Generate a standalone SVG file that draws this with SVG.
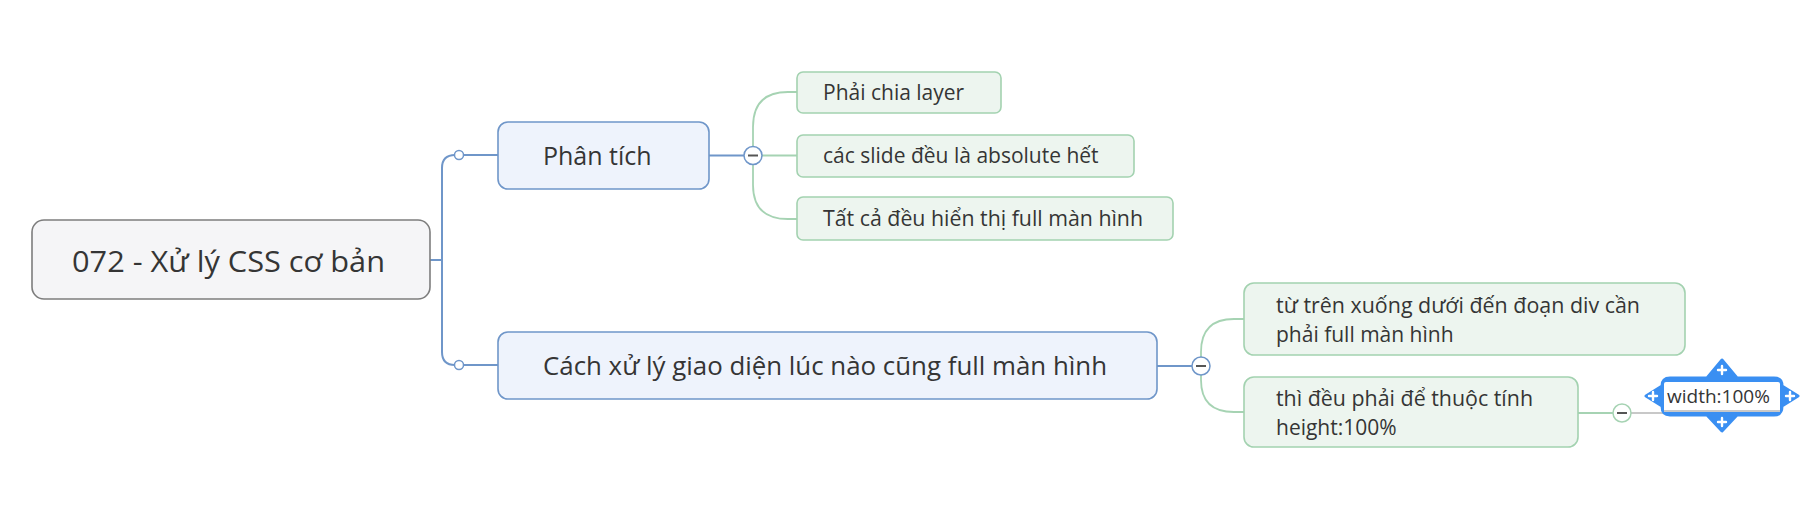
<svg xmlns="http://www.w3.org/2000/svg" width="1818" height="518" viewBox="0 0 1818 518">
<style>
text{font-family:"Open Sans","Noto Sans","Liberation Sans",sans-serif;fill:#353535}
.root{fill:#f5f5f7;stroke:#7d7d7d;stroke-width:1.6}
.main{fill:#eef3fc;stroke:#6f96c9;stroke-width:1.6}
.sub{fill:#edf5ef;stroke:#a3d2b0;stroke-width:1.6}
.bl{fill:none;stroke:#6f96c9;stroke-width:2}
.gr{fill:none;stroke:#a6d3b3;stroke-width:1.8}
.dot{fill:#ffffff;stroke:#6f96c9;stroke-width:1.5}
.colb{fill:#ffffff;stroke:#6f96c9;stroke-width:1.5}
.colg{fill:#ffffff;stroke:#a6d3b3;stroke-width:1.5}
.minus{stroke:#555555;stroke-width:2}
.t25{font-size:25px}
.t21{font-size:21px}
</style>
<rect width="1818" height="518" fill="#ffffff"/>
<g id="connectors">
  <path class="bl" d="M430,260 H442"/>
  <path class="bl" d="M442,260 V168 Q442,155 455,155 M464,155 H498"/>
  <path class="bl" d="M442,260 V352 Q442,365 455,365 M464,365 H498"/>
  <circle class="dot" cx="459" cy="155" r="4.5"/>
  <circle class="dot" cx="459" cy="365" r="4.5"/>
  <path class="bl" d="M709,155.5 H744"/>
  <path class="gr" d="M753,147 V127 Q753,92 788,92 H797"/>
  <path class="gr" d="M762,155.5 H797"/>
  <path class="gr" d="M753,164 V185 Q753,219 788,219 H797"/>
  <circle class="colb" cx="753" cy="155.5" r="9"/>
  <line class="minus" x1="748" y1="155.5" x2="758" y2="155.5"/>
  <path class="bl" d="M1157,366 H1192"/>
  <path class="gr" d="M1201,357 V352 Q1201,319 1234,319 H1244"/>
  <path class="gr" d="M1201,375 V380 Q1201,412 1234,412 H1244"/>
  <circle class="colb" cx="1201" cy="366" r="9"/>
  <line class="minus" x1="1196" y1="366" x2="1206" y2="366"/>
  <path class="gr" d="M1578,413 H1613"/>
  <path d="M1631,413 H1780" stroke="#c8c8c8" stroke-width="2" fill="none"/>
  <circle class="colg" cx="1622" cy="413" r="9"/>
  <line class="minus" x1="1617" y1="413" x2="1627" y2="413"/>
</g>
<g id="root">
  <rect class="root" x="32" y="220" width="398" height="79" rx="12"/>
  <text x="72" y="272" style="font-size:30px" textLength="313" lengthAdjust="spacingAndGlyphs">072 - Xử lý CSS cơ bản</text>
</g>
<g id="phan-tich">
  <rect class="main" x="498" y="122" width="211" height="67" rx="10"/>
  <text class="t25" x="543" y="165">Phân tích</text>
</g>
<g id="phai-chia-layer">
  <rect class="sub" x="797" y="72" width="204" height="41" rx="6"/>
  <text class="t21" x="823" y="100">Phải chia layer</text>
</g>
<g id="cac-slide">
  <rect class="sub" x="797" y="135" width="337" height="42" rx="6"/>
  <text class="t21" x="823" y="163">các slide đều là absolute hết</text>
</g>
<g id="tat-ca">
  <rect class="sub" x="797" y="197" width="376" height="43" rx="6"/>
  <text class="t21" x="823" y="226" textLength="320" lengthAdjust="spacingAndGlyphs">Tất cả đều hiển thị full màn hình</text>
</g>
<g id="cach-xu-ly">
  <rect class="main" x="498" y="332" width="659" height="67" rx="10"/>
  <text class="t25" x="543" y="375" textLength="564" lengthAdjust="spacingAndGlyphs">Cách xử lý giao diện lúc nào cũng full màn hình</text>
</g>
<g id="tu-tren">
  <rect class="sub" x="1244" y="283" width="441" height="72" rx="10"/>
  <text class="t21" x="1276" y="313" textLength="364" lengthAdjust="spacingAndGlyphs">từ trên xuống dưới đến đoạn div cần</text>
  <text class="t21" x="1276" y="342">phải full màn hình</text>
</g>
<g id="thi-deu">
  <rect class="sub" x="1244" y="377" width="334" height="70" rx="10"/>
  <text class="t21" x="1276" y="406" textLength="257" lengthAdjust="spacingAndGlyphs">thì đều phải để thuộc tính</text>
  <text class="t21" x="1276" y="435">height:100%</text>
</g>
<g id="width-100">
  <path d="M1662,386 Q1662,378 1670,378 H1707 L1722,360 L1737,378 H1774 Q1782,378 1782,386 L1798,396 L1782,406 Q1782,415 1774,415 H1737 L1722,431 L1707,415 H1670 Q1662,415 1662,406 L1646,396 Z" fill="#3a8ff2" stroke="#3a8ff2" stroke-width="3" stroke-linejoin="round"/>
  <rect x="1664" y="382" width="116" height="30" rx="2" fill="#ffffff"/>
  <line x1="1664" y1="411" x2="1780" y2="411" stroke="#c8c8c8" stroke-width="2"/>
  <text x="1667" y="403" style="font-size:19px">width:100%</text>
  <g stroke="#ffffff" stroke-width="2.4" stroke-linecap="round">
    <path d="M1722,366 V374 M1718,370 H1726"/>
    <path d="M1722,418 V426 M1718,422 H1726"/>
    <path d="M1653,392 V400 M1649,396 H1657"/>
    <path d="M1790,392 V400 M1786,396 H1794"/>
  </g>
</g>
</svg>
